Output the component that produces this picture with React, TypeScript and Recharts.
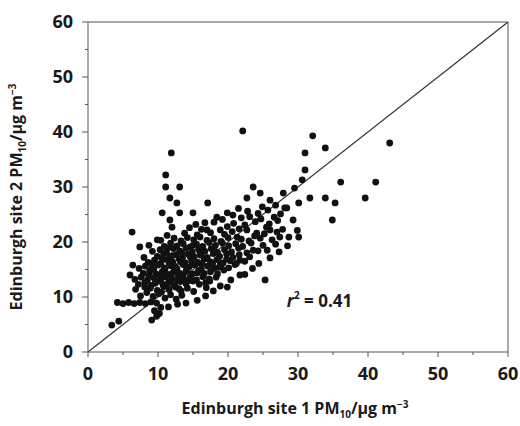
import { ScatterChart, Scatter, XAxis, YAxis, ReferenceLine, ReferenceDot, Label } from 'recharts'

// readings, [site 1, site 2] in µg m-3
const farPoints: [number, number][] = [
  [11.9, 36.2], [22.1, 40.2], [32.1, 39.3], [31, 36.2], [31, 33.1], [43.1, 38], [33.9, 37.1],
  [36.1, 30.9], [41.1, 30.9], [33.9, 28], [35.3, 27.1], [39.6, 28], [34.9, 24], [31.7, 28],
  [30.1, 27.1], [29.3, 24], [28.7, 20.9], [30.1, 20.9], [28.1, 26.2], [25.3, 13.1], [30.6, 31.3],
  [29.5, 29.8], [3.4, 4.9], [4.4, 5.6], [9.1, 5.8], [14, 8.9], [19.9, 11.8],
]

const upperSpread: [number, number][] = [
  [11.1, 32.2], [11.1, 30], [13.1, 30], [11.7, 28], [12.7, 27.1], [17.1, 27.1], [10.6, 25.3],
  [11.7, 24], [12, 22.7], [13.1, 25.3], [15, 25.3], [6.3, 21.8], [7.4, 19.1], [9.9, 20.4],
  [6.4, 15.8], [6, 14], [23.6, 30], [22.7, 28], [24.6, 28.9], [26, 27.6], [27.9, 28.9],
  [28.4, 26.2], [19.9, 25.3], [20.7, 24.9], [18.4, 24.5], [16.7, 23.5], [17, 22.2], [18.9, 22.2],
  [21.3, 20.9], [22.7, 22.2], [24.1, 21.6], [26, 22.2], [25.6, 18.5], [23.6, 18.5], [21.7, 16.7],
  [22.7, 18], [18.9, 16.2], [21.7, 14],
]

const lowBand: [number, number][] = [
  [4.2, 9], [5, 8.8], [5.8, 9], [6.6, 8.8], [7.4, 9], [8.2, 8.8], [9, 9.1], [9.8, 8.9],
  [9.5, 7.5], [10.2, 7], [9.8, 6.5], [10.4, 8.1], [11.5, 8.2], [12.8, 8.7], [15.6, 9.4],
  [16.8, 10.2], [17.9, 11.1], [18.9, 12], [17.4, 12.9], [20.4, 13.1], [22.4, 14.1], [23.5, 15.2],
  [24.4, 16.1], [26, 17.1], [27.3, 18.2], [28.5, 19.3], [29.9, 22.1],
]

const mainCluster: [number, number][] = [
  [7.5, 10.2], [8.4, 10.8], [9.3, 10.1], [10.1, 10.6], [11, 9.8], [11.8, 10.4], [12.6, 9.6], [13.4, 10.3],
  [6.8, 11.4], [8.9, 11.6], [9.9, 11.2], [10.8, 11.9], [11.6, 11.3], [12.5, 11.8], [13.3, 11.1], [14.2, 11.6], [15.1, 11],
  [7.2, 12.3], [8.1, 12.6], [9, 12.1], [9.8, 12.8], [10.7, 12.3], [11.5, 12.7], [12.3, 12.2], [13.2, 12.8],
  [14, 12.4], [15, 12.9], [15.9, 12.3], [16.8, 12.6],
  [6.7, 13.2], [7.6, 13.6], [8.5, 13.1], [9.4, 13.5], [10.2, 13], [11.1, 13.7], [12, 13.3], [12.9, 13.8],
  [13.7, 13.2], [14.6, 13.6], [15.5, 13.1], [16.4, 13.7], [17.3, 13.3], [18.3, 13.6],
  [7.9, 14.3], [8.8, 14.7], [9.7, 14.2], [10.6, 14.6], [11.4, 14.1], [12.3, 14.8], [13.1, 14.3], [14, 14.7],
  [14.9, 14.2], [15.8, 14.8], [16.6, 14.3], [17.5, 14.6], [18.5, 14.2], [19.4, 14.9],
  [7.3, 15.2], [8.2, 15.6], [9.1, 15.1], [10, 15.8], [10.9, 15.3], [11.8, 15.7], [12.7, 15.2], [13.6, 15.9],
  [14.4, 15.4], [15.3, 15.8], [16.2, 15.1], [17.1, 15.6], [18, 15.2], [19, 15.7], [20.1, 15.3], [21, 15.9],
  [8.6, 16.3], [9.5, 16.7], [10.4, 16.1], [11.2, 16.8], [12.1, 16.4], [13, 16.9], [13.9, 16.2], [14.8, 16.6],
  [15.7, 16.3], [16.6, 16.9], [17.5, 16.4], [18.4, 16.8], [19.3, 16.2], [20.3, 16.6], [21.2, 16.1], [22.4, 16.5],
  [8, 17.2], [9.9, 17.4], [10.8, 17.9], [11.7, 17.3], [12.6, 17.7], [13.5, 17.1], [14.3, 17.8], [15.2, 17.3],
  [16.1, 17.6], [17, 17.2], [17.9, 17.9], [18.8, 17.4], [19.8, 17.8], [20.7, 17.2], [21.6, 17.7], [23.1, 17.3],
  [9.2, 18.3], [10.3, 18.6], [11.2, 18.1], [12.2, 18.8], [13.1, 18.4], [14, 18.9], [14.9, 18.2], [15.8, 18.7],
  [16.7, 18.3], [17.6, 18.8], [18.5, 18.1], [19.5, 18.6], [20.5, 18.2], [21.5, 18.9], [24.3, 18.4],
  [8.7, 19.4], [10.9, 19.2], [11.8, 19.8], [12.7, 19.3], [13.6, 19.7], [14.6, 19.1], [15.5, 19.6], [16.4, 19.2],
  [17.3, 19.9], [18.2, 19.4], [19.2, 19.8], [20.1, 19.3], [21.1, 19.7], [22.1, 19.2], [23.3, 19.8], [25, 19.4], [26.8, 19.6],
  [10.4, 20.3], [12.3, 20.7], [13.3, 20.2], [14.2, 20.8], [15.1, 20.4], [16, 20.9], [17, 20.3], [18, 20.6],
  [19, 20.1], [20, 20.8], [21.9, 20.5], [23, 20.2], [24.6, 20.7], [26.3, 20.4], [27.4, 20.9],
  [11.3, 21.2], [13.8, 21.6], [15.6, 21.3], [17.5, 21.7], [19.5, 21.4], [20.6, 21.9], [23.8, 21.1], [25.2, 21.5], [27, 21.8],
  [14.5, 22.6], [16.2, 22.3], [19.9, 22.8], [21.6, 22.4], [25.5, 22.7], [27.8, 22.3],
  [15.4, 23.2], [18, 23.6], [20.8, 23.4], [22.4, 23.1], [23.9, 23.7], [25.9, 23.3], [27.1, 23.9],
  [19.2, 24.1], [21.9, 24.4], [23.1, 24.6], [24.7, 24.2], [26.6, 24.5],
  [22.8, 25.6], [24.3, 25.2], [25.7, 25.8], [27.5, 25.1], [21.5, 26.1], [24.9, 26.4], [26.8, 26.7],
]

const denseCore: [number, number][] = [
  [9.6, 12.5], [10.5, 13.4], [11.3, 12.0], [12.1, 14.4], [12.8, 13.0], [13.6, 14.0], [14.4, 13.0],
  [10.3, 14.0], [11.0, 15.0], [11.6, 16.2], [12.4, 15.6], [13.2, 16.4], [14.1, 15.0], [14.9, 15.9],
  [15.6, 14.4], [16.3, 16.0], [17.0, 17.0], [16.0, 18.1], [14.6, 17.3], [13.4, 18.0], [12.0, 17.5],
  [10.6, 17.0], [9.4, 14.9], [8.7, 13.9], [9.2, 16.0], [17.8, 16.0], [18.7, 15.4], [19.8, 16.9],
  [11.4, 18.9], [15.0, 19.4], [13.0, 11.5], [10.5, 10.9], [8.1, 11.8], [16.9, 11.7], [18.1, 18.4],
]

const axisTicks = [0, 5, 10, 15, 20, 25, 30, 35, 40, 45, 50, 55, 60]
const r2Value = '0.41'
const r2Pos = { x: 28.4, y: 8.2 }

const points = [...farPoints, ...upperSpread, ...lowBand, ...mainCluster, ...denseCore].map(([x, y]) => ({ x, y }))

const font = '"Open Sans", sans-serif'
const ink = '#1a1a1a'
const axisColor = '#555'

const YTick = ({ x, y, payload }: any) => {
  const major = payload.value % 10 === 0
  return (
    <g>
      <line x1={x} x2={x - (major ? 6 : 3)} y1={y} y2={y} stroke={axisColor} />
      {major && (
        <text x={x - 15} y={y} dy={6} textAnchor="end" fontSize={18} fontWeight={700} fontFamily={font} fill={ink}>
          {payload.value}
        </text>
      )}
    </g>
  )
}

const XTick = ({ x, y, payload }: any) => {
  const major = payload.value % 10 === 0
  return (
    <g>
      <line x1={x} x2={x} y1={y} y2={y + (major ? 5 : 3)} stroke={axisColor} />
      {major && (
        <text x={x} y={y + 28} textAnchor="middle" fontSize={18} fontWeight={700} fontFamily={font} fill={ink}>
          {payload.value}
        </text>
      )}
    </g>
  )
}

const XTitle = ({ viewBox }: any) => (
  <text x={viewBox.x + viewBox.width / 2 - 3} y={viewBox.y + viewBox.height + 22} textAnchor="middle"
    fontSize={16} fontWeight={700} fontFamily={font} fill={ink}>
    Edinburgh site 1 PM<tspan fontSize={10} dy={4}>10</tspan>
    <tspan dy={-4}>/µg m</tspan><tspan fontSize={10} dy={-6}>−3</tspan>
  </text>
)

const YTitle = ({ viewBox }: any) => {
  const cx = viewBox.x - 6
  const cy = viewBox.y + viewBox.height / 2 + 10
  return (
    <text x={cx} y={cy} transform={`rotate(-90 ${cx} ${cy})`} textAnchor="middle"
      fontSize={16} fontWeight={700} fontFamily={font} fill={ink}>
      Edinburgh site 2 PM<tspan fontSize={10} dy={4}>10</tspan>
      <tspan dy={-4}>/µg m</tspan><tspan fontSize={10} dy={-6}>−3</tspan>
    </text>
  )
}

const R2Text = ({ cx, cy }: any) => (
  <text x={cx} y={cy} fontSize={17} fontWeight={700} fontFamily={font} fill={ink}>
    <tspan fontStyle="italic">r</tspan>
    <tspan fontSize={10} dy={-8}>2</tspan>
    <tspan dy={8}> = {r2Value}</tspan>
  </text>
)

export default function App() {
  return (
    <div style={{ position: 'absolute', left: 0, top: 0, background: '#fff' }}>
      <ScatterChart width={520} height={426} margin={{ top: 22, right: 12, bottom: 34, left: 28 }}>
        <XAxis type="number" dataKey="x" domain={[0, 60]} ticks={axisTicks} height={40}
          stroke={axisColor} tickLine={false} tickSize={0} tickMargin={0} tick={<XTick />} interval={0}>
          <Label content={<XTitle />} />
        </XAxis>
        <YAxis type="number" dataKey="y" domain={[0, 60]} ticks={axisTicks} width={60}
          stroke={axisColor} tickLine={false} tickSize={0} tickMargin={0} tick={<YTick />} interval={0}>
          <Label content={<YTitle />} />
        </YAxis>
        <ReferenceLine y={60} stroke={axisColor} />
        <ReferenceLine x={60} stroke={axisColor} />
        <ReferenceLine segment={[{ x: 0, y: 0 }, { x: 60, y: 60 }]} stroke="#333" strokeWidth={1.2} />
        <Scatter data={points} isAnimationActive={false}
          shape={(p: any) => <circle cx={p.cx} cy={p.cy} r={3.4} fill="#111" />} />
        <ReferenceDot x={r2Pos.x} y={r2Pos.y} r={0} shape={<R2Text />} />
      </ScatterChart>
    </div>
  )
}
